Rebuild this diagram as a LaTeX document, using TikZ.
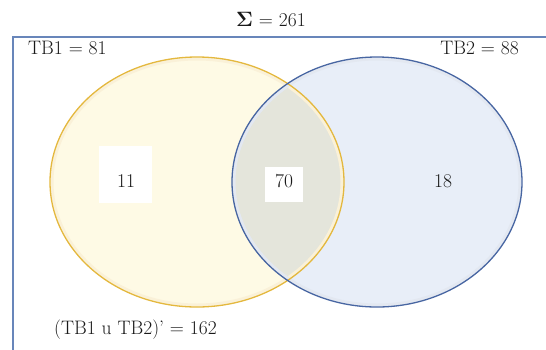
\documentclass[tikz,border=0pt]{standalone}
\usepackage{amsmath}
\usetikzlibrary{positioning}

\definecolor{cream}{RGB}{254,250,229}
\definecolor{paleblue}{RGB}{232,238,248}
\definecolor{overlapc}{RGB}{228,229,219}
\definecolor{goldline}{RGB}{228,184,62}
\definecolor{blueline}{RGB}{72,102,162}
\definecolor{framecol}{RGB}{104,134,186}

\begin{document}
\begin{tikzpicture}[x=1pt, y=-1pt,
  every node/.style={font=\fontsize{19.5}{22}\selectfont, text=black!90},
  count/.style={fill=white, minimum width=#1, inner sep=0pt},
  label/.style={inner sep=0pt}]

\useasboundingbox (0,0) rectangle (546,349);

% outer frame (runs past the page)
\draw[framecol, line width=1.6pt] (13,37) rectangle (570,380);

% set fills
\fill[cream] (197,182) ellipse (147 and 125);
\fill[paleblue] (377,182) ellipse (145 and 125);
\begin{scope}
  \clip (197,182) ellipse (147 and 125);
  \fill[overlapc] (377,182) ellipse (145 and 125);
\end{scope}

% soft rims
\draw[goldline!20, line width=3pt] (197,182) ellipse (145 and 123);
\draw[blueline!15, line width=3pt] (377,182) ellipse (143 and 123);
\draw[goldline, line width=1.3pt] (197,182) ellipse (147 and 125);
\draw[blueline, line width=1.3pt] (377,182) ellipse (145 and 125);

\node[label] (total) at (271,20) {$\boldsymbol{\Sigma}$ = 261};
\node[label, anchor=west] (tbone) at (28,48) {TB1 = 81};
\node[label, anchor=east] (tbtwo) at (519,48) {TB2 = 88};

\node[count=53, minimum height=57] (onlyonebox) at (125,174) {};
\node[label] (onlyone) at (126,181) {11};
\node[count=38, minimum height=35] (bothbox) at (284,184) {};
\node[label] (both) at (284,181) {70};
\node[label] (onlytwo) at (443,181) {18};

\node[label, anchor=west] (outside) at (54,330) {(TB1 u TB2)' = 162};

\end{tikzpicture}
\end{document}
